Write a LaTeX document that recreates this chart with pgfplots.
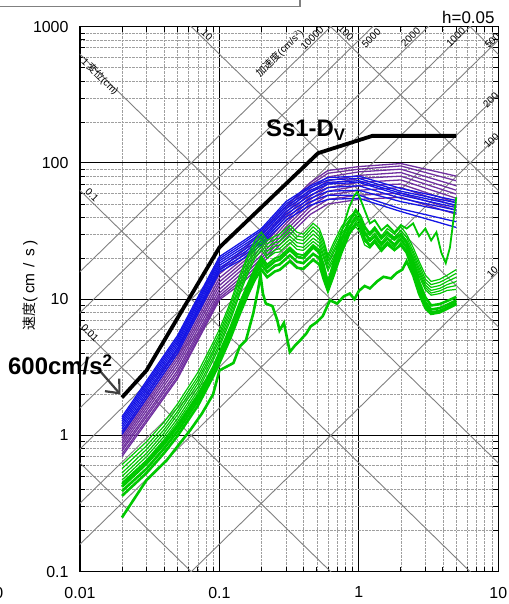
\documentclass[border=0pt]{standalone}
\usepackage{pgfplots}
\pgfplotsset{compat=1.18}
\usepackage{fontspec}
\setmainfont{Liberation Sans}
\newfontfamily\cjk{Noto Sans CJK JP}
\usetikzlibrary{arrows.meta}
\definecolor{spblue}{RGB}{20,20,230}
\definecolor{sppurple}{RGB}{112,48,160}
\definecolor{spgreen}{RGB}{0,200,0}
\definecolor{diag}{RGB}{128,128,128}
\begin{document}
\begin{tikzpicture}[x=1bp,y=1bp]
\useasboundingbox (0,0) rectangle (509,604);
% frame remnant at the top
\draw[gray, line width=1.5bp] (-2,597.3) -- (300,597.3) -- (300,606);
\begin{axis}[
  at={(80bp,32.3bp)}, anchor=south west,
  scale only axis, width=418.3bp, height=545bp,
  xmode=log, ymode=log,
  xmin=0.01, xmax=10, ymin=0.1, ymax=1000,
  axis line style={line width=1.4bp},
  xtick={0.01,0.1,1,10}, xticklabels={0.01,0.1,1,10},
  ytick={0.1,1,10,100,1000}, yticklabels={0.1,1,10,100,1000},
  minor xtick={0.02,0.03,0.04,0.05,0.06,0.07,0.08,0.09,0.2,0.3,0.4,0.5,0.6,0.7,0.8,0.9,2,3,4,5,6,7,8,9},
  minor ytick={0.2,0.3,0.4,0.5,0.6,0.7,0.8,0.9,2,3,4,5,6,7,8,9,20,30,40,50,60,70,80,90,200,300,400,500,600,700,800,900},
  tick align=inside, major tick length=0bp, minor tick length=5bp,
  tick style={black, line width=0.8bp},
  grid=both,
  major grid style={black, line width=1.1bp},
  minor grid style={gray!75, densely dotted, line width=0.6bp},
  tick label style={font=\fontsize{16}{18}\selectfont},
  xticklabel style={inner sep=0pt, anchor=north, yshift=-15bp},
  yticklabel style={xshift=-8bp},
  purp/.style={sppurple, line width=1.3bp},
  blu/.style={spblue, line width=1.3bp},
  gthin/.style={spgreen, line width=1.2bp},
  gmid/.style={spgreen, line width=1.8bp},
  gthick/.style={spgreen, line width=2.6bp},
  dline/.style={diag, line width=0.9bp},
]
% displacement lines (cm): 0.001 ... 1000
\addplot[dline] coordinates {(0.001,6.2832) (100,0.000062832)};
\addplot[dline] coordinates {(0.001,62.832) (100,0.00062832)};
\addplot[dline] coordinates {(0.001,628.32) (100,0.0062832)};
\addplot[dline] coordinates {(0.001,6283.2) (100,0.062832)};
\addplot[dline] coordinates {(0.001,62832) (100,0.62832)};
\addplot[dline] coordinates {(0.001,628320) (100,6.2832)};
\addplot[dline] coordinates {(0.001,6283200) (100,62.832)};
% acceleration lines (cm/s^2): 10, 100, 200, 500, 1000, 2000, 5000, 10000
\addplot[dline] coordinates {(0.001,0.0015915) (100,159.15)};
\addplot[dline] coordinates {(0.001,0.015915) (100,1591.5)};
\addplot[dline] coordinates {(0.001,0.03183) (100,3183)};
\addplot[dline] coordinates {(0.001,0.079577) (100,7957.7)};
\addplot[dline] coordinates {(0.001,0.15915) (100,15915)};
\addplot[dline] coordinates {(0.001,0.3183) (100,31831)};
\addplot[dline] coordinates {(0.001,0.79577) (100,79577)};
\addplot[dline] coordinates {(0.001,1.5915) (100,159155)};
% diagonal scale labels
\begin{scope}[font=\fontsize{10}{11}\selectfont, inner sep=0pt]
\node[rotate=-44.4] at (axis cs:0.0815,869) {10};
\node[rotate=-44.4] at (axis cs:0.809,899) {100};
\node[rotate=-44.4] at (axis cs:0.01391,431) {1\,{\cjk 変位}(cm)};
\node[rotate=-44.4] at (axis cs:0.01219,58.2) {0.1};
\node[rotate=-44.4] at (axis cs:0.01179,5.65) {0.01};
\node[rotate=44.4] at (axis cs:0.2717,638) {{\cjk 加速度}(cm/s$^2$)};
\node[rotate=44.4] at (axis cs:0.4613,826) {10000};
\node[rotate=44.4] at (axis cs:1.228,822) {5000};
\node[rotate=44.4] at (axis cs:2.355,836) {2000};
\node[rotate=44.4] at (axis cs:4.954,836) {1000};
\node[rotate=44.4] at (axis cs:9.06,790) {500};
\node[rotate=44.4] at (axis cs:8.81,290) {200};
\node[rotate=44.4] at (axis cs:8.93,145.6) {100};
\node[rotate=44.4] at (axis cs:9.06,15.9) {10};
\end{scope}
% purple spectra
\addplot[purp] coordinates {(0.02,1.05)(0.05,4.3)(0.1,16.4)(0.15,23)(0.2,31)(0.3,48)(0.45,72)(0.6,88)(1,94)(2,99)(5,80)};
\addplot[purp] coordinates {(0.02,1.00)(0.05,4.0)(0.1,15.3)(0.15,21.5)(0.2,29)(0.3,46)(0.45,69)(0.6,84)(1,90)(2,95)(5,74)};
\addplot[purp] coordinates {(0.02,0.96)(0.05,3.8)(0.1,14.3)(0.15,20)(0.2,27)(0.3,43)(0.45,65)(0.6,79)(1,86)(2,90)(5,68)};
\addplot[purp] coordinates {(0.02,0.92)(0.05,3.6)(0.1,13.4)(0.15,19)(0.2,25.5)(0.3,40.5)(0.45,61)(0.6,74)(1,81)(2,85)(5,63)};
\addplot[purp] coordinates {(0.02,0.88)(0.05,3.4)(0.1,12.6)(0.15,18)(0.2,24)(0.3,38)(0.45,57)(0.6,70)(1,77)(2,80)(5,59)};
\addplot[purp] coordinates {(0.02,0.84)(0.05,3.2)(0.1,11.8)(0.15,17)(0.2,22.5)(0.3,36)(0.45,54)(0.6,66)(1,72)(2,75)(5,55)};
\addplot[purp] coordinates {(0.02,0.80)(0.05,3.0)(0.1,11.1)(0.15,16)(0.2,21)(0.3,34)(0.45,51)(0.6,62)(1,68)(2,70)(5,51)};
\addplot[purp] coordinates {(0.02,0.77)(0.05,2.85)(0.1,10.6)(0.15,15)(0.2,20)(0.3,32)(0.45,48)(0.6,58)(1,63)(2,66)(5,48)};
\addplot[purp] coordinates {(0.02,0.73)(0.05,2.7)(0.1,10.2)(0.15,14.2)(0.2,19)(0.3,30)(0.45,45)(0.6,54)(1,58)(2,60)(5,45)};
\addplot[purp] coordinates {(0.02,0.70)(0.05,2.6)(0.1,9.9)(0.15,13.5)(0.2,18)(0.3,28)(0.45,42)(0.6,50)(1,54)(2,56)(5,42)};
% blue spectra
\addplot[blu] coordinates {(0.02,1.37)(0.05,5.4)(0.1,20.5)(0.15,27)(0.2,33)(0.3,52)(0.45,68)(0.6,78)(1,80)(2,65)(5,53)};
\addplot[blu] coordinates {(0.02,1.32)(0.05,5.2)(0.1,19.8)(0.15,26)(0.2,32)(0.3,50)(0.45,66)(0.6,75)(1,77)(2,62)(5,51)};
\addplot[blu] coordinates {(0.02,1.27)(0.05,5.0)(0.1,19.1)(0.15,25)(0.2,30.5)(0.3,48)(0.45,63)(0.6,72)(1,74)(2,60)(5,49)};
\addplot[blu] coordinates {(0.02,1.22)(0.05,4.8)(0.1,18.4)(0.15,24)(0.2,29.5)(0.3,46)(0.45,61)(0.6,70)(1,72)(2,58)(5,47)};
\addplot[blu] coordinates {(0.02,1.17)(0.05,4.6)(0.1,17.7)(0.15,23)(0.2,28)(0.3,44)(0.45,58)(0.6,66)(1,68)(2,55)(5,45)};
\addplot[blu] coordinates {(0.02,1.12)(0.05,4.4)(0.1,17.0)(0.15,22)(0.2,27)(0.3,42)(0.45,55)(0.6,62)(1,63)(2,52)(5,43)};
\addplot[blu] coordinates {(0.02,1.07)(0.05,4.2)(0.1,16.4)(0.15,21)(0.2,26)(0.3,40)(0.45,52)(0.6,58)(1,58)(2,46)(5,37)};
\addplot[blu] coordinates {(0.02,1.02)(0.05,4.0)(0.1,15.8)(0.15,20)(0.2,25)(0.3,38)(0.45,49)(0.6,54)(1,55)(2,44)(5,33.6)};
% green spectra, thin group
\addplot[gthin] coordinates {(0.02,0.61)(0.03,0.9)(0.04,1.25)(0.05,1.7)(0.07,2.9)(0.09,4.8)(0.1,6.0)(0.12,9.5)(0.14,15)(0.16,21)(0.18,27)(0.2,31)(0.22,27)(0.25,29)(0.27,30)(0.32,35)(0.36,31)(0.4,30)(0.47,36)(0.52,33)(0.56,27)(0.6,21)(0.66,26)(0.75,34)(0.85,40)(0.95,44)(1.02,40)(1.1,33)(1.2,31)(1.3,34)(1.45,29)(1.6,33)(1.8,30)(2.0,34)(2.2,30)(2.45,24)(2.7,19)(3.0,15)(3.3,13.5)(3.8,14)(4.3,15)(5.0,16.5)};
\addplot[gthin] coordinates {(0.02,0.57)(0.03,0.84)(0.04,1.17)(0.05,1.6)(0.07,2.7)(0.09,4.5)(0.1,5.6)(0.12,9.0)(0.14,14)(0.16,20)(0.18,25)(0.2,29)(0.22,25.5)(0.25,27.5)(0.27,28)(0.32,33)(0.36,29)(0.4,28.5)(0.47,34)(0.52,31)(0.56,25.5)(0.6,20)(0.66,24.5)(0.75,32)(0.85,38)(0.95,42)(1.02,38)(1.1,31)(1.2,29.5)(1.3,32)(1.45,27.5)(1.6,31)(1.8,28.5)(2.0,32)(2.2,28.5)(2.45,22.5)(2.7,18)(3.0,14)(3.3,12.8)(3.8,13.3)(4.3,14.2)(5.0,15.5)};
\addplot[gthin] coordinates {(0.02,0.53)(0.03,0.79)(0.04,1.1)(0.05,1.5)(0.07,2.55)(0.09,4.2)(0.1,5.3)(0.12,8.4)(0.14,13)(0.16,18.5)(0.18,24)(0.2,27.5)(0.22,24)(0.25,26)(0.27,26.5)(0.32,31)(0.36,27.5)(0.4,27)(0.47,32)(0.52,29)(0.56,24)(0.6,19)(0.66,23)(0.75,30)(0.85,36)(0.95,40)(1.02,36)(1.1,29.5)(1.2,28)(1.3,30.5)(1.45,26)(1.6,29.5)(1.8,27)(2.0,30.5)(2.2,27)(2.45,21.5)(2.7,17)(3.0,13.3)(3.3,12.2)(3.8,12.6)(4.3,13.5)(5.0,14.5)};
\addplot[gthin] coordinates {(0.02,0.50)(0.03,0.74)(0.04,1.04)(0.05,1.42)(0.07,2.4)(0.09,4.0)(0.1,5.0)(0.12,7.9)(0.14,12.3)(0.16,17.5)(0.18,22.5)(0.2,26)(0.22,22.5)(0.25,24.5)(0.27,25)(0.32,29)(0.36,26)(0.4,25.5)(0.47,30)(0.52,27.5)(0.56,22.5)(0.6,18)(0.66,22)(0.75,28.5)(0.85,34)(0.95,38)(1.02,34.5)(1.1,28)(1.2,26.5)(1.3,29)(1.45,25)(1.6,28)(1.8,25.5)(2.0,29)(2.2,25.5)(2.45,20.5)(2.7,16.2)(3.0,12.7)(3.3,11.6)(3.8,12)(4.3,12.8)(5.0,13.5)};
\addplot[gthin] coordinates {(0.02,0.47)(0.03,0.70)(0.04,0.98)(0.05,1.33)(0.07,2.25)(0.09,3.75)(0.1,4.7)(0.12,7.4)(0.14,11.5)(0.16,16.5)(0.18,21)(0.2,24.5)(0.22,21)(0.25,23)(0.27,23.5)(0.32,27.5)(0.36,24.5)(0.4,24)(0.47,28)(0.52,26)(0.56,21)(0.6,17)(0.66,20.5)(0.75,27)(0.85,32)(0.95,36)(1.02,33)(1.1,26.5)(1.2,25)(1.3,27.5)(1.45,23.5)(1.6,26.5)(1.8,24)(2.0,27.5)(2.2,24)(2.45,19.5)(2.7,15.5)(3.0,12.2)(3.3,11.1)(3.8,11.5)(4.3,12.2)(5.0,12.6)};
\addplot[gthin] coordinates {(0.02,0.45)(0.03,0.66)(0.04,0.93)(0.05,1.26)(0.07,2.12)(0.09,3.55)(0.1,4.45)(0.12,7.0)(0.14,10.9)(0.16,15.5)(0.18,20)(0.2,23)(0.22,20)(0.25,22)(0.27,22.2)(0.32,26)(0.36,23.2)(0.4,22.8)(0.47,26.5)(0.52,24.5)(0.56,20)(0.6,16.2)(0.66,19.5)(0.75,25.5)(0.85,30.5)(0.95,34)(1.02,31)(1.1,25)(1.2,23.7)(1.3,26)(1.45,22.3)(1.6,25)(1.8,22.7)(2.0,26)(2.2,22.7)(2.45,18.5)(2.7,14.8)(3.0,11.7)(3.3,10.7)(3.8,11)(4.3,11.6)(5.0,11.8)};
% green spectra, thick group
\addplot[gthick] coordinates {(0.02,0.42)(0.03,0.62)(0.04,0.86)(0.05,1.15)(0.07,1.9)(0.09,3.1)(0.1,3.9)(0.12,6.0)(0.14,9.0)(0.16,12.5)(0.18,16)(0.2,19.5)(0.22,17)(0.25,19)(0.27,19.5)(0.32,23)(0.36,20.5)(0.4,20)(0.47,24)(0.52,22)(0.56,17)(0.6,13)(0.66,18)(0.75,27)(0.85,37)(0.95,45)(1.02,41)(1.1,34)(1.2,30)(1.3,33)(1.45,28)(1.6,31)(1.8,27.5)(2.0,30)(2.2,26)(2.45,19)(2.7,13.5)(3.0,10.3)(3.3,9.0)(3.8,9.2)(4.3,9.7)(5.0,10.4)};
\addplot[gthick] coordinates {(0.02,0.39)(0.03,0.57)(0.04,0.8)(0.05,1.07)(0.07,1.78)(0.09,2.9)(0.1,3.65)(0.12,5.6)(0.14,8.4)(0.16,11.6)(0.18,15)(0.2,18)(0.22,15.8)(0.25,17.6)(0.27,18)(0.32,21)(0.36,18.8)(0.4,18.4)(0.47,21.5)(0.52,20)(0.56,15.5)(0.6,12.2)(0.66,16)(0.75,24)(0.85,33)(0.95,40)(1.02,37)(1.1,31)(1.2,27)(1.3,29)(1.45,25)(1.6,28)(1.8,25)(2.0,27.5)(2.2,24)(2.45,17.5)(2.7,12.5)(3.0,9.5)(3.3,8.4)(3.8,8.6)(4.3,9.1)(5.0,9.8)};
\addplot[gthick] coordinates {(0.02,0.36)(0.03,0.53)(0.04,0.74)(0.05,0.99)(0.07,1.65)(0.09,2.7)(0.1,3.4)(0.12,5.2)(0.14,7.8)(0.16,10.8)(0.18,14)(0.2,16.5)(0.22,14.5)(0.25,16)(0.27,16.4)(0.32,19)(0.36,17)(0.4,16.7)(0.47,19.5)(0.52,18)(0.56,14)(0.6,11.5)(0.66,15)(0.75,22)(0.85,30)(0.95,36)(1.02,33.5)(1.1,28)(1.2,24.5)(1.3,26.5)(1.45,23)(1.6,25.5)(1.8,23)(2.0,25)(2.2,22)(2.45,16)(2.7,11.5)(3.0,9)(3.3,8.0)(3.8,8.2)(4.3,8.7)(5.0,9.4)};
% green spectrum rising at the long-period end
\addplot[gmid] coordinates {(0.02,0.44)(0.03,0.65)(0.04,0.9)(0.05,1.2)(0.07,2.0)(0.09,3.2)(0.1,4.1)(0.12,6.3)(0.14,9.5)(0.16,13)(0.18,17)(0.2,20.5)(0.22,18)(0.25,20)(0.27,20.5)(0.32,24)(0.36,21.5)(0.4,21)(0.47,25)(0.52,23)(0.56,18)(0.6,13.5)(0.66,19)(0.75,31)(0.85,47)(0.93,58)(0.97,61)(1.02,55)(1.1,45)(1.2,36)(1.3,38)(1.45,32)(1.6,35)(1.8,31)(2.0,35)(2.2,33)(2.45,36)(2.7,29)(3.0,33)(3.3,27)(3.6,31)(3.9,22)(4.2,18.4)(4.5,24)(5.0,56)};
% green spectrum with the short-period spike
\addplot[gthick] coordinates {(0.02,0.25)(0.03,0.47)(0.042,0.66)(0.062,1.1)(0.075,1.45)(0.09,2.0)(0.1,3.0)(0.126,3.4)(0.14,4.5)(0.155,5.0)(0.175,7.9)(0.19,12)(0.197,15.1)(0.205,11)(0.215,9.3)(0.24,8.9)(0.26,7)(0.27,5.9)(0.29,6.7)(0.32,4.1)(0.35,4.6)(0.38,5.0)(0.42,5.6)(0.45,6.3)(0.5,6.8)(0.55,7.5)(0.62,9.8)(0.7,9.3)(0.78,10.5)(0.86,11)(0.93,10)(1.0,11.5)(1.1,12.5)(1.2,12)(1.35,13.5)(1.5,14.6)(1.7,14.2)(1.87,15.6)(2.05,16.5)(2.2,19)(2.45,15)(2.7,11)(3.0,8.6)(3.3,7.8)(3.8,8.0)(4.3,8.5)(5.0,9.2)};
% Ss1-Dv design spectrum
\addplot[black, line width=3.8bp] coordinates {(0.02,1.9)(0.03,3.0)(0.1,24)(0.51,118)(1.25,158)(5,158)};
\end{axis}
% pointer to the 600 cm/s^2 corner
\draw[black!75, line width=2.2bp, -{Straight Barb[length=11bp,width=19bp,line width=2.2bp]}] (100,233) -- (120.5,209.5);
\node[anchor=base east, font=\fontsize{17}{19}\selectfont] at (498,580.7) {h=0.05};
\node[anchor=base west, font=\fontsize{24}{26}\bfseries\selectfont, inner sep=0pt] at (266,467) {Ss1-D$_{\mathrm{\mathbf{V}}}$};
\node[anchor=base west, font=\fontsize{24}{26}\bfseries\selectfont, inner sep=0pt] at (8,229) {600cm/s$^{\mathbf{2}}$};
\node[rotate=90, inner sep=0pt] at (30,318.5) {{\cjk\fontsize{14}{16}\selectfont 速度}{\fontsize{15.5}{17}\selectfont (\kern4bp cm\kern6bp/\kern6bp s\kern4bp)}};
\node[anchor=base east, font=\fontsize{16}{18}\selectfont, inner sep=0pt] at (3.5,5) {0};
\end{tikzpicture}
\end{document}
